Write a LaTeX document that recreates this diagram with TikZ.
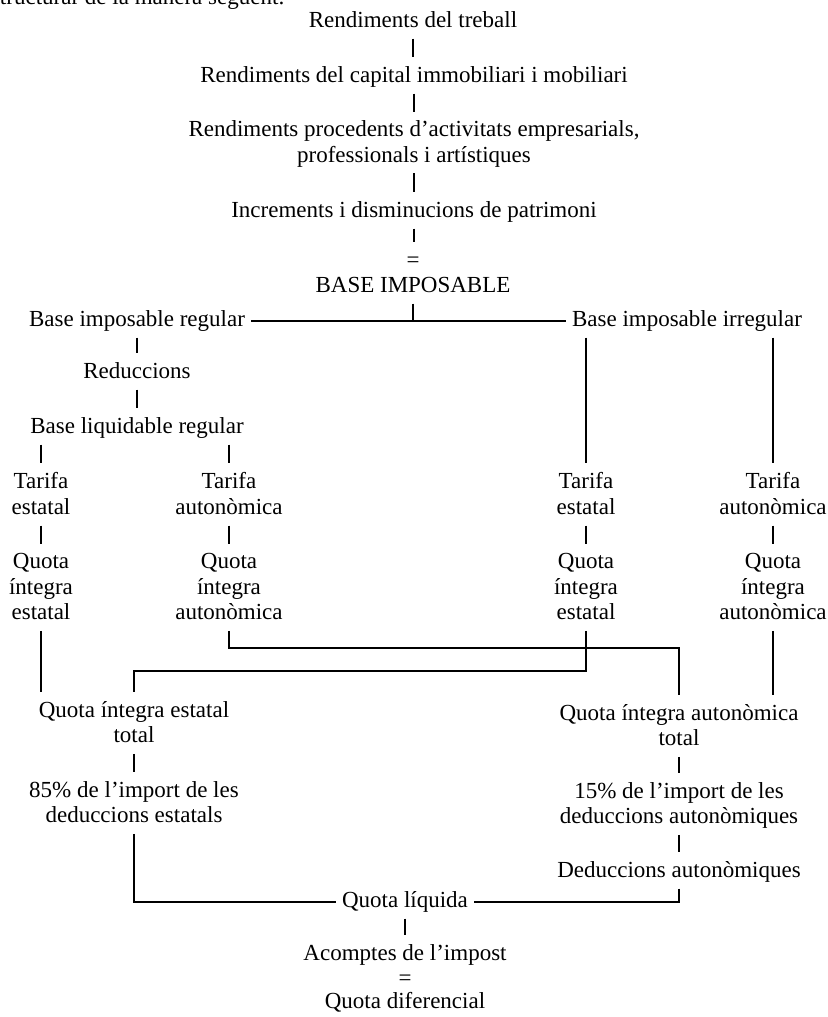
\documentclass[tikz,border=0pt]{standalone}
\usepackage{fontspec}
\setmainfont{Liberation Serif}
\newcommand\stru{\rule[-5pt]{0pt}{21pt}}
\tikzset{
  lbl/.style={font=\fontsize{23}{25.5}\selectfont, align=center, inner xsep=6pt, inner ysep=6pt, execute at begin node=\stru},
  lk/.style={line width=1.6pt, shorten >=3pt},
  ln/.style={line width=1.6pt},
}
\begin{document}
\begin{tikzpicture}[x=1pt,y=-1pt]
\clip (0,0) rectangle (827,1017);
\fill[white] (0,0) rectangle (827,1017);
\node[lbl, anchor=base east, inner sep=0pt] (intro) at (285,5) {estructurar de la manera següent:};
\node[lbl] (n1) at (413,22) {Rendiments del treball};
\node[lbl] (n2) at (414,77) {Rendiments del capital immobiliari i mobiliari};
\node[lbl] (n3) at (414,144) {Rendiments procedents d’activitats empresarials,\\\stru professionals i artístiques};
\node[lbl] (n4) at (414,212) {Increments i disminucions de patrimoni};
\node[lbl] (eq1) at (413,262) {=};
\node[lbl] (base) at (413,287) {BASE IMPOSABLE};
\node[lbl] (reg) at (137,321) {Base imposable regular};
\node[lbl] (irr) at (687,321) {Base imposable irregular};
\node[lbl] (red) at (137,373) {Reduccions};
\node[lbl] (liq) at (137,428) {Base liquidable regular};
\node[lbl] (tE1) at (41,496) {Tarifa\\\stru estatal};
\node[lbl] (tA1) at (229,496) {Tarifa\\\stru autonòmica};
\node[lbl] (tE2) at (586,496) {Tarifa\\\stru estatal};
\node[lbl] (tA2) at (773,496) {Tarifa\\\stru autonòmica};
\node[lbl] (qE1) at (41,589) {Quota\\\stru íntegra\\\stru estatal};
\node[lbl] (qA1) at (229,589) {Quota\\\stru íntegra\\\stru autonòmica};
\node[lbl] (qE2) at (586,589) {Quota\\\stru íntegra\\\stru estatal};
\node[lbl] (qA2) at (773,589) {Quota\\\stru íntegra\\\stru autonòmica};
\node[lbl] (totE) at (134,724.5) {Quota íntegra estatal\\\stru total};
\node[lbl] (totA) at (679,727.5) {Quota íntegra autonòmica\\\stru total};
\node[lbl] (d85) at (134,804.5) {85\% de l’import de les\\\stru deduccions estatals};
\node[lbl] (d15) at (679,805.5) {15\% de l’import de les\\\stru deduccions autonòmiques};
\node[lbl] (dedA) at (679,872) {Deduccions autonòmiques};
\node[lbl] (liqd) at (405,902) {Quota líquida};
\node[lbl] (acom) at (405,955) {Acomptes de l’impost};
\node[lbl] (eq2) at (405,980) {=};
\node[lbl] (dif) at (405,1003) {Quota diferencial};
\coordinate (hA) at (0,648);
\coordinate (hE) at (0,671);
% top chain
\draw[lk] (n1.south) -- (n1.south |- n2.north);
\draw[lk] (n2.south) -- (n2.south |- n3.north);
\draw[lk] (n3.south) -- (n3.south |- n4.north);
\draw[lk] (n4.south) -- (n4.south |- eq1.north);
\draw[ln] (base.south) -- (base.south |- reg.east);
\draw[ln] (reg.east) -- (irr.west);
% regular branch
\draw[lk] (reg.south) -- (reg.south |- red.north);
\draw[lk] (red.south) -- (red.south |- liq.north);
\draw[lk] (liq.south -| tE1.north) -- (tE1.north);
\draw[lk] (liq.south -| tA1.north) -- (tA1.north);
% irregular branch
\draw[lk] (irr.south -| tE2.north) -- (tE2.north);
\draw[lk] (irr.south -| tA2.north) -- (tA2.north);
% tarifa to quota
\draw[lk] (tE1.south) -- (qE1.north);
\draw[lk] (tA1.south) -- (qA1.north);
\draw[lk] (tE2.south) -- (qE2.north);
\draw[lk] (tA2.south) -- (qA2.north);
% quota to totals
\draw[lk] (qE1.south) -- (qE1.south |- totE.north);
\draw[lk] (qA1.south) -- (qA1.south |- hA) -- (totA.north |- hA) -- (totA.north);
\draw[lk] (qE2.south) -- (qE2.south |- hE) -- (totE.north |- hE) -- (totE.north);
\draw[lk] (qA2.south) -- (qA2.south |- totA.north);
% totals down
\draw[lk] (totE.south) -- (d85.north);
\draw[lk] (totA.south) -- (d15.north);
\draw[lk] (d15.south) -- (dedA.north);
\draw[ln] (d85.south) -- (d85.south |- liqd.west) -- (liqd.west);
\draw[ln] (dedA.south) -- (dedA.south |- liqd.east) -- (liqd.east);
\draw[lk] (liqd.south) -- (liqd.south |- acom.north);
\end{tikzpicture}
\end{document}
